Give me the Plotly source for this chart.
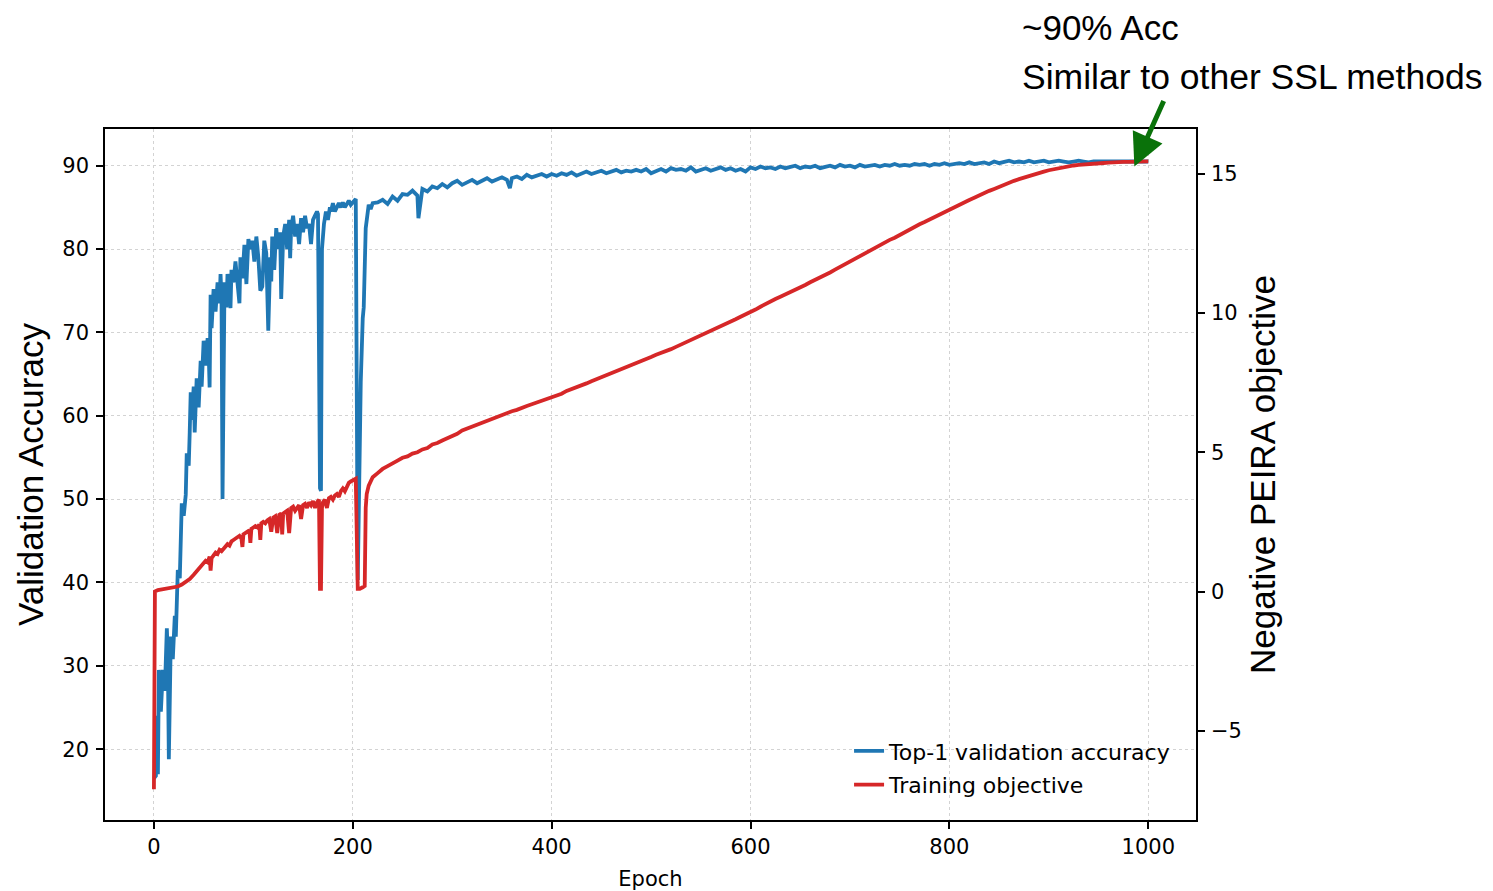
import plotly.graph_objects as go

# ---------------- data ----------------
acc_epochs_early = [0, 2, 3, 4, 5, 7, 9, 11, 13, 14, 15, 17, 19, 21, 22, 24, 26, 27, 28, 30,
                    32, 33, 35, 36, 37, 38, 40, 41, 43, 45, 47, 48, 50, 52, 54, 55, 56, 57, 58, 60,
                    62, 64, 66, 67, 68, 69, 70, 71, 73, 74, 76, 77, 78, 80, 82, 84, 86, 87, 89, 91,
                    93, 95, 97, 99, 101, 103, 105, 107, 109, 111, 113, 115, 117, 118, 119, 121, 123, 125, 127, 128,
                    130, 132, 134, 136, 137, 138, 140, 142, 144, 146, 148, 150, 152, 154, 156, 158, 160, 162, 164, 165,
                    167, 168, 169, 171, 173, 175, 177, 178, 180, 182, 184, 186, 188, 190, 192, 194, 196, 198, 200, 202,
                    203, 205, 206, 208, 210, 211, 213, 215, 216, 218, 220]
acc_values_early = [16.5, 16.8, 24.0, 17.0, 29.5, 24.5, 29.5, 27.0, 34.5, 31.0, 18.8, 33.5, 30.8, 36.0, 33.5, 41.5, 40.5, 46.0, 49.5, 48.0,
                    50.5, 55.5, 54.0, 58.0, 62.8, 59.5, 63.5, 58.0, 64.5, 61.0, 66.6, 63.5, 69.0, 66.0, 69.3, 68.0, 63.4, 74.5, 70.5, 75.2,
                    72.5, 76.0, 73.5, 77.0, 74.0, 50.0, 69.5, 76.0, 73.0, 77.0, 75.0, 72.9, 77.5, 76.0, 78.5, 76.0, 73.5, 79.0, 76.5, 80.5,
                    75.8, 81.2, 80.0, 81.0, 78.5, 81.5, 79.0, 75.0, 75.5, 81.0, 79.5, 70.2, 79.0, 76.1, 81.5, 77.5, 82.5, 80.0, 82.0, 74.0,
                    81.5, 83.0, 80.0, 83.5, 78.9, 82.5, 84.0, 81.5, 83.0, 80.6, 83.7, 82.0, 84.0, 82.5, 83.0, 80.6, 83.5, 84.0, 84.5, 84.2,
                    51.3, 51.0, 80.0, 83.0, 84.5, 83.5, 85.0, 84.5, 85.5, 84.5, 85.0, 85.5, 85.0, 85.6, 85.0, 85.5, 85.8, 85.3, 85.6, 85.8,
                    86.0, 40.3, 50.0, 64.0, 71.7, 73.0, 82.5, 85.0, 85.3, 84.8, 85.5]

acc_epochs_late = [225, 230, 235, 240, 245, 250, 255, 260, 265, 266, 270, 275, 280, 285, 290, 295, 300, 305, 310, 315,
                   320, 325, 330, 335, 340, 345, 350, 355, 358, 360, 365, 370, 375, 380, 385, 390, 395, 400, 405, 410,
                   415, 420, 425, 430, 435, 440, 445, 450, 455, 460, 465, 470, 475, 480, 485, 490, 495, 500, 505, 510,
                   515, 520, 525, 530, 535, 540, 545, 550, 555, 560, 565, 570, 575, 580, 585, 590, 595, 600, 605, 610,
                   615, 620, 625, 630, 635, 640, 645, 650, 655, 660, 665, 670, 675, 680, 685, 690, 695, 700, 705, 710,
                   715, 720, 725, 730, 735, 740, 745, 750, 755, 760, 765, 770, 775, 780, 785, 790, 795, 800, 805, 810,
                   815, 820, 825, 830, 835, 840, 845, 850, 855, 860, 865, 870, 875, 880, 885, 890, 895, 900, 905, 910,
                   915, 920, 925, 930, 935, 940, 945, 950, 955, 960, 965, 970, 975, 980, 985, 990, 995, 1000]
acc_values_late = [85.6, 85.9, 85.4, 86.3, 85.8, 86.6, 86.5, 87.0, 86.4, 83.7, 87.2, 86.9, 87.5, 87.3, 87.8, 87.4, 87.9, 88.2, 87.7, 88.0,
                   88.3, 87.9, 88.2, 88.5, 88.1, 88.4, 88.6, 88.3, 87.3, 88.5, 88.7, 88.4, 88.9, 88.6, 88.8, 89.0, 88.7, 89.0, 88.8, 89.1,
                   88.9, 89.2, 88.8, 89.1, 89.3, 89.0, 89.2, 89.4, 89.1, 89.3, 89.5, 89.2, 89.4, 89.3, 89.5, 89.3, 89.6, 89.1, 89.4, 89.6,
                   89.3, 89.7, 89.5, 89.6, 89.4, 89.8, 89.3, 89.5, 89.7, 89.4, 89.6, 89.8, 89.5, 89.7, 89.4, 89.6, 89.3, 89.8, 89.6, 89.9,
                   89.7, 89.8, 89.6, 89.9, 89.7, 89.8, 90.0, 89.7, 89.9, 89.8, 90.0, 89.7, 89.9, 90.0, 89.8, 90.1, 89.9, 90.0, 89.8, 90.1,
                   89.9, 90.0, 90.1, 89.9, 90.1, 90.0, 90.2, 90.0, 90.1, 90.0, 90.2, 90.1, 90.2, 90.0, 90.2, 90.1, 90.3, 90.1, 90.2, 90.3,
                   90.2, 90.4, 90.2, 90.3, 90.4, 90.2, 90.5, 90.3, 90.4, 90.6, 90.4, 90.5, 90.4, 90.6, 90.4, 90.5, 90.6, 90.4, 90.5, 90.6,
                   90.5, 90.4, 90.5, 90.6, 90.5, 90.4, 90.5, 90.5, 90.4, 90.5, 90.5, 90.4, 90.5, 90.5, 90.4, 90.5, 90.5, 90.5]

obj_epochs_early = [0, 1, 4, 8, 12, 16, 20, 24, 28, 32, 36, 40, 44, 48, 50, 52, 54, 56, 57, 58,
                    60, 62, 64, 66, 68, 70, 72, 74, 76, 78, 80, 82, 84, 86, 88, 89, 90, 92, 94, 96,
                    97, 98, 100, 102, 104, 106, 107, 108, 110, 112, 114, 116, 118, 120, 122, 124, 126, 128, 129, 130,
                    132, 134, 136, 138, 140, 142, 144, 146, 148, 150, 152, 154, 156, 158, 160, 162, 164, 166, 167, 168,
                    169, 170, 172, 174, 176, 178, 180, 182, 184, 186, 188, 190, 192, 194, 196, 198, 200, 203, 205, 207,
                    210, 212, 213, 214, 216, 218, 220]
obj_values_early = [-7.1, 0.0, 0.05, 0.08, 0.1, 0.12, 0.15, 0.18, 0.25, 0.35, 0.45, 0.6, 0.75, 0.9, 1.0, 1.1, 1.05, 1.25, 0.75, 1.2,
                    1.3, 1.4, 1.35, 1.5, 1.45, 1.55, 1.6, 1.7, 1.65, 1.8, 1.85, 1.9, 1.95, 2.0, 1.9, 1.6, 2.05, 2.1, 2.15, 2.2,
                    1.75, 2.25, 2.3, 2.35, 2.3, 2.4, 1.85, 2.45, 2.5, 2.45, 2.55, 2.6, 2.15, 2.65, 2.7, 2.1, 2.75, 2.8, 2.05, 2.8,
                    2.85, 2.9, 2.1, 3.0, 3.05, 2.9, 3.0, 3.1, 2.6, 3.1, 3.15, 3.0, 3.2, 3.1, 3.25, 3.0, 3.2, 3.3, 0.1, 0.1,
                    3.0, 3.2, 3.3, 3.0, 3.35, 3.4, 3.3, 3.45, 3.5, 3.4, 3.6, 3.7, 3.6, 3.8, 3.9, 3.95, 4.0, 4.05, 0.1, 0.1,
                    0.15, 0.2, 3.0, 3.5, 3.8, 4.0, 4.1]

obj_epochs_late = acc_epochs_late[:9] + acc_epochs_late[10:28] + acc_epochs_late[29:]
obj_values_late = [4.25, 4.4, 4.5, 4.62, 4.7, 4.8, 4.85, 4.95, 5.0, 5.1, 5.15, 5.28, 5.33, 5.42, 5.5, 5.6, 5.66, 5.78, 5.85, 5.93,
                   6.0, 6.08, 6.13, 6.2, 6.28, 6.33, 6.4, 6.47, 6.52, 6.6, 6.66, 6.72, 6.78, 6.86, 6.9, 6.98, 7.05, 7.1, 7.2, 7.26,
                   7.33, 7.4, 7.47, 7.55, 7.62, 7.7, 7.78, 7.84, 7.92, 7.98, 8.05, 8.12, 8.2, 8.28, 8.34, 8.42, 8.5, 8.56, 8.64, 8.7,
                   8.78, 8.86, 8.95, 9.02, 9.1, 9.18, 9.26, 9.34, 9.42, 9.5, 9.6, 9.68, 9.77, 9.86, 9.94, 10.03, 10.12, 10.22, 10.32, 10.4,
                   10.5, 10.58, 10.66, 10.75, 10.82, 10.9, 11.0, 11.1, 11.18, 11.28, 11.36, 11.45, 11.55, 11.65, 11.74, 11.85, 11.94, 12.05, 12.15, 12.25,
                   12.33, 12.43, 12.52, 12.62, 12.7, 12.8, 12.9, 12.98, 13.08, 13.18, 13.26, 13.35, 13.44, 13.54, 13.62, 13.72, 13.8, 13.88, 13.97, 14.05,
                   14.13, 14.22, 14.3, 14.38, 14.45, 14.53, 14.6, 14.67, 14.74, 14.8, 14.86, 14.92, 14.97, 15.02, 15.07, 15.12, 15.16, 15.2, 15.24, 15.27,
                   15.29, 15.31, 15.33, 15.35, 15.36, 15.37, 15.38, 15.39, 15.41, 15.4, 15.42, 15.42, 15.43, 15.43, 15.44, 15.44]

acc_epochs = acc_epochs_early + acc_epochs_late
acc_values = acc_values_early + acc_values_late
obj_epochs = obj_epochs_early + obj_epochs_late
obj_values = obj_values_early + obj_values_late

x_ticks = [0, 200, 400, 600, 800, 1000]
y_ticks = [20, 30, 40, 50, 60, 70, 80, 90]
y2_ticks = [-5, 0, 5, 10, 15]

BLUE = "#1f77b4"
RED = "#d62728"
GREEN = "#0a720a"
TICK_FONT = dict(family="DejaVu Sans", size=21, color="black")
BIG_FONT = dict(family="Liberation Sans", size=35, color="black")

fig = go.Figure()
fig.add_trace(go.Scatter(x=acc_epochs, y=acc_values, mode="lines", name="Top-1 validation accuracy",
                         line=dict(color=BLUE, width=3.8), legendgroup="a"))
fig.add_trace(go.Scatter(x=obj_epochs, y=obj_values, mode="lines", name="Training objective",
                         line=dict(color=RED, width=3.8), yaxis="y2", legendgroup="b"))

fig.add_annotation(x=986, y=89.9, xref="x", yref="y", ax=30, ay=-67, axref="pixel", ayref="pixel",
                   text="", showarrow=True, arrowhead=2, arrowsize=1.3, arrowwidth=5, arrowcolor=GREEN)
fig.add_annotation(x=0.8390, y=1.1470, xref="paper", yref="paper", text="~90% Acc", showarrow=False,
                   xanchor="left", yanchor="middle", font=BIG_FONT)
fig.add_annotation(x=0.8390, y=1.0750, xref="paper", yref="paper", text="Similar to other SSL methods",
                   showarrow=False, xanchor="left", yanchor="middle", font=dict(family="Liberation Sans", size=35.5, color="black"))

axis_common = dict(showline=True, linecolor="black", linewidth=1.5, ticks="outside", ticklen=7,
                   tickwidth=1.5, tickcolor="black", tickfont=TICK_FONT, zeroline=False)

fig.update_layout(
    width=1493, height=891,
    margin=dict(l=97, r=305, t=121, b=79),
    paper_bgcolor="white", plot_bgcolor="white",
    showlegend=True,
    legend=dict(x=0.682, y=0.075, xanchor="left", yanchor="middle", bgcolor="rgba(0,0,0,0)",
                font=dict(family="DejaVu Sans", size=22, color="black"), tracegroupgap=2),
    xaxis=dict(range=[-49.2, 1048], tickvals=x_ticks, mirror=True, showgrid=True, gridcolor="#d3d3d3",
               griddash="dot", gridwidth=1,
               title=dict(text="Epoch", font=dict(family="DejaVu Sans", size=21, color="black"), standoff=13),
               **axis_common),
    yaxis=dict(range=[11.5, 94.4], tickvals=y_ticks, mirror=True, showgrid=True, gridcolor="#d3d3d3",
               griddash="dot", gridwidth=1, ticklabelstandoff=3,
               title=dict(text="Validation Accuracy", font=BIG_FONT, standoff=8),
               **axis_common),
    yaxis2=dict(range=[-8.2, 16.6], tickvals=y2_ticks, overlaying="y", side="right", showgrid=False,
                ticklabelstandoff=2,
                title=dict(text="Negative PEIRA objective", font=BIG_FONT, standoff=10),
                **axis_common),
)

fig.write_html("out.html")
